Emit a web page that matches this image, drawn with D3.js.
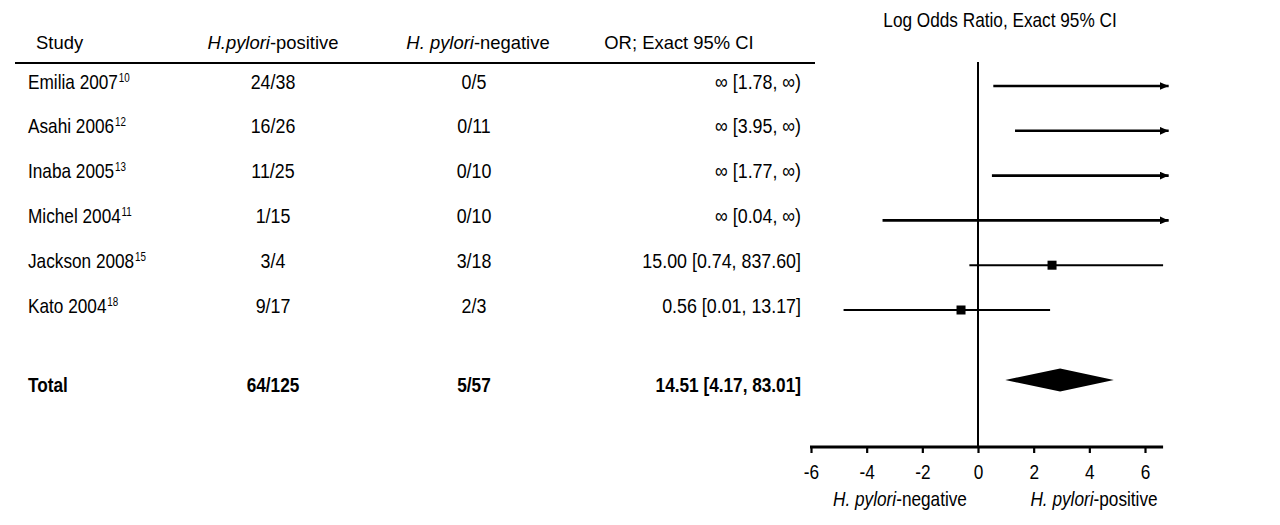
<!DOCTYPE html>
<html><head><meta charset="utf-8">
<script src="https://cdn.jsdelivr.net/npm/d3@7"></script>
<style>
body{margin:0;background:#fff;}
svg text{font-family:"Liberation Sans",Arial,sans-serif;fill:#000;}
</style></head><body><svg id="c" width="1280" height="525"></svg>
<script>
// ---- data ----
const studies = ["Emilia 2007","Asahi 2006","Inaba 2005","Michel 2004","Jackson 2008","Kato 2004"];
const refs = ["10","12","13","11","15","18"];
const hpPositive = ["24/38","16/26","11/25","1/15","3/4","9/17"];
const hpNegative = ["0/5","0/11","0/10","0/10","3/18","2/3"];
const orText = ["\u221e [1.78, \u221e)","\u221e [3.95, \u221e)","\u221e [1.77, \u221e)","\u221e [0.04, \u221e)","15.00 [0.74, 837.60]","0.56 [0.01, 13.17]"];
const logOR    = [null, null, null, null, 2.66, -0.61];
const logLower = [0.55, 1.33, 0.50, -3.43, -0.31, -4.83];
const logUpper = [Infinity, Infinity, Infinity, Infinity, 6.65, 2.59];
const totalRow = ["Total","64/125","5/57","14.51 [4.17, 83.01]"];
const totalLog = [0.98, 2.95, 4.88]; // lower, point, upper as drawn
const headers = ["Study","H.pylori-positive","H. pylori-negative","OR; Exact 95% CI"];
const xTicks = [-6,-4,-2,0,2,4,6];
const axisMax = 6.65;   // end of axis line
const arrowMax = 6.85;  // end of open-ended intervals
const title = "Log Odds Ratio, Exact 95% CI";
const bottomLabels = [["H. pylori","-negative"],["H. pylori","-positive"]];

// ---- layout ----
const svg = d3.select("#c");
const x = d3.scaleLinear().domain([-6,6]).range([811,1145]);
const y = d3.scaleLinear().domain([0,5]).range([86,310]);
const totalY = 380;
const axisY = 447;
const fs = 21, SX = 0.82;
const colPos = 273, colNeg = 474, colOR = 801, colStudy = 28;

// condensed text helper
function txt(parent, px, py, anchor, parts, opts={}) {
  const sx = opts.sx || SX;
  const g = parent.append("g").attr("transform",`translate(${px},${py}) scale(${sx},1)`);
  const t = g.append("text").attr("text-anchor",anchor).attr("font-size",opts.size||fs);
  if (opts.bold) t.attr("font-weight","bold");
  parts.forEach(p=>{
    const s = typeof p === "string" ? p : p[0];
    const o = typeof p === "string" ? {} : p[1];
    const ts = t.append("tspan").text(s);
    if (o.italic) ts.attr("font-style","italic");
    if (o.size) ts.attr("font-size",o.size);
    if (o.dy) ts.attr("dy",o.dy);
    if (o.dx) ts.attr("dx",o.dx);
  });
  return t;
}

// header (slightly wider setting than body)
const HO = {size:19, sx:0.97};
txt(svg,36,49,"start",[headers[0]],HO);
txt(svg,colPos,49,"middle",[["H.pylori",{italic:true}],"-positive"],HO);
txt(svg,colNeg+4,49,"middle",[["H. pylori",{italic:true}],"-negative"],HO);
txt(svg,679,49,"middle",[headers[3]],HO);
svg.append("line").attr("x1",15).attr("x2",815).attr("y1",63).attr("y2",63)
  .attr("stroke","#000").attr("stroke-width",2);

// rows
const RO = {sx:0.85};
studies.forEach((s,i)=>{
  const ty = y(i)+2.5;
  txt(svg,colStudy,ty,"start",[s,[refs[i],{size:12,dy:-7,dx:1}]],{sx:0.82});
  txt(svg,colPos,ty,"middle",[hpPositive[i]],RO);
  txt(svg,colNeg,ty,"middle",[hpNegative[i]],RO);
  txt(svg,colOR,ty,"end",[orText[i]],RO);
});
// total
txt(svg,colStudy,totalY+12,"start",[totalRow[0]],{bold:true});
txt(svg,colPos,totalY+12,"middle",[totalRow[1]],{bold:true});
txt(svg,colNeg,totalY+12,"middle",[totalRow[2]],{bold:true});
txt(svg,colOR,totalY+12,"end",[totalRow[3]],{bold:true});

// ---- plot ----
txt(svg,1000,27,"middle",[title]);

// zero line
svg.append("line").attr("x1",x(0)).attr("x2",x(0)).attr("y1",62).attr("y2",axisY)
  .attr("stroke","#000").attr("stroke-width",2);

// arrow marker
svg.append("defs").append("marker").attr("id","arr").attr("markerUnits","userSpaceOnUse")
  .attr("markerWidth",10).attr("markerHeight",8).attr("refX",9).attr("refY",4).attr("orient","auto")
  .append("path").attr("d","M0,0 L9,4 L0,8 Z").attr("fill","#000");

const pg = svg.append("g");
studies.forEach((s,i)=>{
  const open = !isFinite(logUpper[i]);
  const hi = open ? arrowMax : logUpper[i];
  const ln = pg.append("line").attr("x1",x(logLower[i])).attr("x2",x(hi))
    .attr("y1",y(i)).attr("y2",y(i)).attr("stroke","#000")
    .attr("stroke-width", open ? 2.6 : 2);
  if (open) ln.attr("marker-end","url(#arr)");
  if (logOR[i] !== null) {
    pg.append("rect").attr("x",x(logOR[i])-4.5).attr("y",y(i)-4.5).attr("width",9).attr("height",9).attr("fill","#000");
  }
});
// diamond
pg.append("path").attr("fill","#000").attr("d",
  `M${x(totalLog[0])},${totalY} L${x(totalLog[1])},${totalY-11.5} L${x(totalLog[2])},${totalY} L${x(totalLog[1])},${totalY+11.5} Z`);

// axis
const ax = svg.append("g").attr("transform",`translate(0,${axisY})`)
  .call(d3.axisBottom(x).tickValues(xTicks).tickSize(6).tickSizeOuter(0).tickFormat(d=>String(d)));
ax.select(".domain").remove();
ax.selectAll(".tick line").attr("stroke","#000").attr("stroke-width",2.2);
ax.selectAll(".tick text").remove();
ax.selectAll(".tick").each(function(d){ txt(d3.select(this),0,32,"middle",[String(d)]); });
ax.append("line").attr("x1",x(-6)-1).attr("x2",x(axisMax)).attr("y1",0).attr("y2",0)
  .attr("stroke","#000").attr("stroke-width",2.8);

// bottom labels
[900,1094].forEach((cx,k)=>{
  txt(svg,cx,506,"middle",[[bottomLabels[k][0],{italic:true}],bottomLabels[k][1]]);
});
</script></body></html>
